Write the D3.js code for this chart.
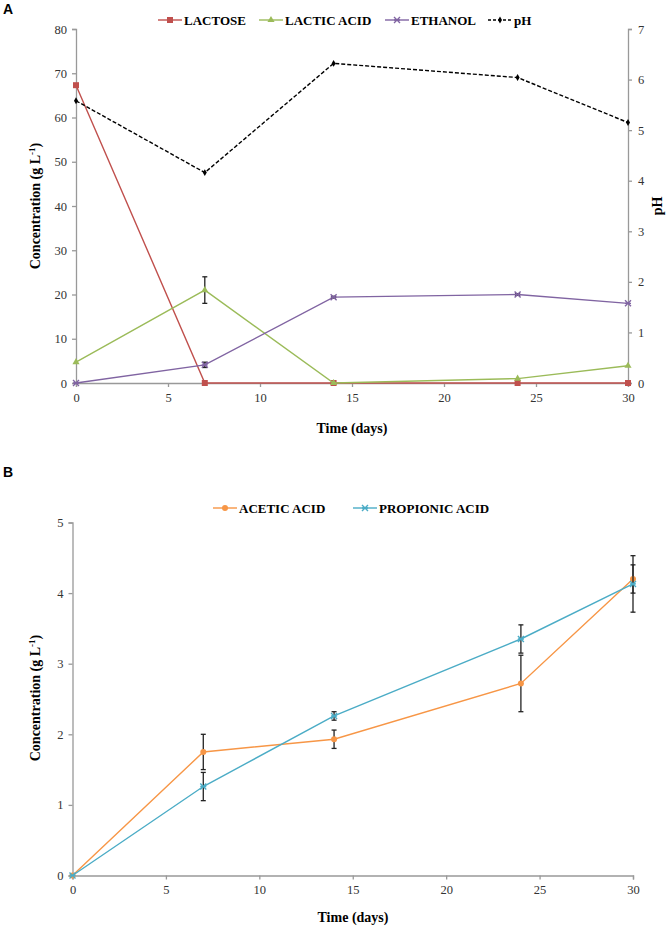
<!DOCTYPE html>
<html><head><meta charset="utf-8">
<script src="https://cdn.jsdelivr.net/npm/d3@7"></script>
<style>
body{margin:0;background:#fff;}
text{font-family:"Liberation Serif","Times New Roman",serif;}
</style></head>
<body><svg id="c" width="666" height="926"></svg>
<script>
// ---- data ----
const days = [0, 7, 14, 24, 30];
const xTicks = [0, 5, 10, 15, 20, 25, 30];
const lactose = [67.3, 0, 0, 0, 0];
const lacticAcid = [4.7, 21.0, 0, 1.0, 3.9];
const lacticErr = [0, 3.0, 0, 0, 0];
const ethanol = [0, 4.1, 19.4, 20.0, 18.0];
const ethanolErr = [0, 0.6, 0.2, 0.2, 0];
const pH = [5.58, 4.16, 6.32, 6.04, 5.15];
const concTicksA = [0, 10, 20, 30, 40, 50, 60, 70, 80];
const pHTicks = [0, 1, 2, 3, 4, 5, 6, 7];
const aceticAcid = [0, 1.75, 1.93, 2.72, 4.2];
const aceticErr = [0, 0.25, 0.13, 0.4, 0.2];
const propionicAcid = [0, 1.26, 2.26, 3.35, 4.13];
const propionicErr = [0, 0.2, 0.06, 0.2, 0.4];
const concTicksB = [0, 1, 2, 3, 4, 5];

const C = {red:"#C0504D", green:"#9BBB59", purple:"#8064A2", black:"#000", orange:"#F79646", cyan:"#4BACC6"};
const svg = d3.select("#c");
const axisColor = "#999";
const fmt = d3.format("d");

function styleAxis(g){
  g.select(".domain").attr("stroke", axisColor).attr("stroke-width", 1.3);
  g.selectAll(".tick line").attr("stroke", axisColor).attr("stroke-width", 1.3);
  g.selectAll(".tick text").attr("fill", "#333").attr("font-size", 12.5);
}

function marker(g, type, x, y, color){
  if(type==="square"){
    g.append("rect").attr("x", x-3).attr("y", y-3).attr("width", 6).attr("height", 6).attr("fill", color);
  } else if(type==="triangle"){
    g.append("path").attr("d", d3.symbol(d3.symbolTriangle, 22)()).attr("transform", `translate(${x},${y})`).attr("fill", color);
  } else if(type==="x"){
    g.append("path").attr("d", `M${x-3},${y-3}L${x+3},${y+3}M${x-3},${y+3}L${x+3},${y-3}M${x-3},${y}L${x+3},${y}`)
      .attr("stroke", color).attr("stroke-width", 1.4).attr("fill","none");
  } else if(type==="diamond"){
    g.append("path").attr("d", d3.symbol(d3.symbolDiamond, 14)()).attr("transform", `translate(${x},${y})`).attr("fill", color);
  } else if(type==="circle"){
    g.append("circle").attr("cx", x).attr("cy", y).attr("r", 3).attr("fill", color);
  }
}

function drawSeries(g, x, y, vals, errs, color, type, dash){
  const line = d3.line().x((d,i)=>x(days[i])).y(d=>y(d));
  g.append("path").datum(vals).attr("d", line).attr("fill","none").attr("stroke", color)
    .attr("stroke-width", 1.4).attr("stroke-dasharray", dash || null);
  if(errs){
    vals.forEach((v,i)=>{
      const e = errs[i]; if(!e) return;
      const cx = x(days[i]);
      const eg = g.append("g").attr("stroke","#222").attr("stroke-width",1.3);
      eg.append("line").attr("x1",cx).attr("x2",cx).attr("y1",y(v+e)).attr("y2",y(v-e));
      eg.append("line").attr("x1",cx-2.5).attr("x2",cx+2.5).attr("y1",y(v+e)).attr("y2",y(v+e));
      eg.append("line").attr("x1",cx-2.5).attr("x2",cx+2.5).attr("y1",y(v-e)).attr("y2",y(v-e));
    });
  }
  vals.forEach((v,i)=>marker(g, type, x(days[i]), y(v), color));
}

function legendItem(g, x0, y0, label, color, type, dash){
  g.append("line").attr("x1",x0).attr("x2",x0+24).attr("y1",y0).attr("y2",y0)
    .attr("stroke",color).attr("stroke-width",1.4).attr("stroke-dasharray", dash||null);
  marker(g, type, x0+12, y0, color);
  g.append("text").attr("x", x0+26).attr("y", y0+4.5).attr("font-size", 13).attr("font-weight","bold").text(label);
}

// ---- Panel A ----
const xA = d3.scaleLinear().domain([0,30]).range([76, 628]);
const yA = d3.scaleLinear().domain([0,80]).range([383, 29]);
const yP = d3.scaleLinear().domain([0,7]).range([383, 29]);

svg.append("text").attr("x",3).attr("y",14).style("font-family","'Liberation Sans', Arial, sans-serif")
  .attr("font-size",14).attr("font-weight","bold").text("A");

const gA = svg.append("g");
gA.append("g").attr("transform","translate(0,383)")
  .call(d3.axisBottom(xA).tickValues(xTicks).tickFormat(fmt).tickSize(4).tickPadding(6)).call(styleAxis);
gA.append("g").attr("transform","translate(76,0)")
  .call(d3.axisLeft(yA).tickValues(concTicksA).tickFormat(fmt).tickSize(4).tickPadding(5)).call(styleAxis);
gA.append("g").attr("transform","translate(628,0)")
  .call(d3.axisRight(yP).tickValues(pHTicks).tickFormat(fmt).tickSize(4).tickPadding(6)).call(styleAxis);

drawSeries(gA, xA, yA, lactose, null, C.red, "square");
drawSeries(gA, xA, yA, lacticAcid, lacticErr, C.green, "triangle");
drawSeries(gA, xA, yA, ethanol, ethanolErr, C.purple, "x");
drawSeries(gA, xA, yP, pH, null, C.black, "diamond", "4,2");

legendItem(gA, 158, 20, "LACTOSE", C.red, "square");
legendItem(gA, 259, 20, "LACTIC ACID", C.green, "triangle");
legendItem(gA, 385, 20, "ETHANOL", C.purple, "x");
legendItem(gA, 488, 20, "pH", C.black, "diamond", "3,2");

gA.append("text").attr("x", 352).attr("y", 433).attr("text-anchor","middle")
  .attr("font-size",14).attr("font-weight","bold").text("Time (days)");
const yla = gA.append("text").attr("transform","translate(40,206) rotate(-90)").attr("text-anchor","middle")
  .attr("font-size",14).attr("font-weight","bold");
yla.append("tspan").text("Concentration (g L");
yla.append("tspan").attr("dy",-5).attr("font-size",9).text("-1");
yla.append("tspan").attr("dy",5).text(")");
gA.append("text").attr("transform","translate(662,206) rotate(-90)").attr("text-anchor","middle")
  .attr("font-size",14).attr("font-weight","bold").text("pH");

// ---- Panel B ----
const xB = d3.scaleLinear().domain([0,30]).range([72.5, 633]);
const yB = d3.scaleLinear().domain([0,5]).range([875.5, 522.5]);

svg.append("text").attr("x",3).attr("y",477).style("font-family","'Liberation Sans', Arial, sans-serif")
  .attr("font-size",14).attr("font-weight","bold").text("B");

const gB = svg.append("g");
gB.append("g").attr("transform","translate(0,875.5)")
  .call(d3.axisBottom(xB).tickValues(xTicks).tickFormat(fmt).tickSize(4).tickPadding(6)).call(styleAxis);
gB.append("g").attr("transform","translate(72.5,0)")
  .call(d3.axisLeft(yB).tickValues(concTicksB).tickFormat(fmt).tickSize(4).tickPadding(5)).call(styleAxis);

drawSeries(gB, xB, yB, aceticAcid, aceticErr, C.orange, "circle");
drawSeries(gB, xB, yB, propionicAcid, propionicErr, C.cyan, "x");

legendItem(gB, 213, 508, "ACETIC ACID", C.orange, "circle");
legendItem(gB, 353, 508, "PROPIONIC ACID", C.cyan, "x");

gB.append("text").attr("x", 353).attr("y", 922).attr("text-anchor","middle")
  .attr("font-size",14).attr("font-weight","bold").text("Time (days)");
const ylb = gB.append("text").attr("transform","translate(40,698) rotate(-90)").attr("text-anchor","middle")
  .attr("font-size",14).attr("font-weight","bold");
ylb.append("tspan").text("Concentration (g L");
ylb.append("tspan").attr("dy",-5).attr("font-size",9).text("-1");
ylb.append("tspan").attr("dy",5).text(")");
</script></body></html>
